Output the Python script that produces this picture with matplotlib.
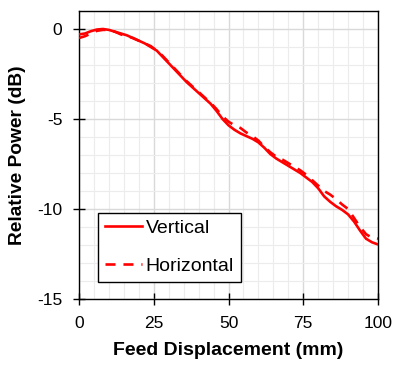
import matplotlib
matplotlib.use("Agg")
import matplotlib.pyplot as plt
from matplotlib.ticker import MultipleLocator

plt.rcParams['font.family'] = ['Liberation Sans', 'DejaVu Sans']
plt.rcParams['axes.unicode_minus'] = False

x = [0, 2, 4, 6, 8, 10, 12, 14, 16, 18, 20, 22, 24, 26, 28, 30, 32, 34, 36, 38, 40,
     42, 44, 46, 48, 50, 52, 54, 56, 58, 60, 62, 64, 66, 68, 70, 72, 74, 76, 78, 80,
     82, 84, 86, 88, 90, 92, 94, 96, 98, 100]
vertical = [-0.3, -0.25, -0.12, -0.03, 0.0, -0.05, -0.15, -0.25, -0.35, -0.5, -0.65,
            -0.8, -1.0, -1.2, -1.55, -1.9, -2.25, -2.6, -2.95, -3.25, -3.55,
            -3.85, -4.15, -4.55, -5.0, -5.35, -5.6, -5.8, -5.95, -6.1, -6.3,
            -6.6, -6.95, -7.2, -7.4, -7.6, -7.8, -8.0, -8.25, -8.5, -8.85,
            -9.3, -9.6, -9.85, -10.05, -10.3, -10.7, -11.2, -11.65, -11.85, -11.97]
horizontal = [-0.5, -0.4, -0.25, -0.1, -0.05, -0.05, -0.15, -0.3, -0.4, -0.5, -0.65,
              -0.8, -0.95, -1.2, -1.5, -1.85, -2.2, -2.55, -2.9, -3.2, -3.5,
              -3.8, -4.1, -4.45, -4.85, -5.15, -5.35, -5.5, -5.75, -5.95, -6.2,
              -6.55, -6.85, -7.1, -7.25, -7.45, -7.65, -7.85, -8.1, -8.4, -8.7,
              -9.0, -9.2, -9.45, -9.75, -10.0, -10.5, -11.0, -11.4, -11.6, -11.65]
x_ticks = [0, 25, 50, 75, 100]
y_ticks = [0, -5, -10, -15]

fig = plt.figure(figsize=(3.95, 3.65), dpi=100)
ax = fig.add_axes([79/395, 1-299/365, 299/395, 288/365])

ax.plot(x, vertical, color='#ff0000', lw=1.9, ls='-', label='Vertical', zorder=3)
ax.plot(x, horizontal, color='#ff0000', lw=1.9, ls=(0, (3.8, 3.0)), label='Horizontal', zorder=3)

ax.set_xlim(0, 100)
ax.set_ylim(-15, 1)
ax.set_xticks(x_ticks)
ax.set_yticks(y_ticks)
ax.xaxis.set_minor_locator(MultipleLocator(5))
ax.yaxis.set_minor_locator(MultipleLocator(1))
ax.grid(which='major', color='#d9d9d9', lw=1.0, zorder=0)
ax.grid(which='minor', color='#ececec', lw=0.8, zorder=0)
ax.set_axisbelow(True)
ax.tick_params(which='major', direction='inout', length=8, width=1, labelsize=12.5, color='black')
ax.tick_params(which='minor', length=0)
ax.tick_params(axis='x', pad=8)
ax.tick_params(axis='y', pad=8)
for s in ax.spines.values():
    s.set_color('black')
    s.set_linewidth(1)

ax.set_xlabel('Feed Displacement (mm)', fontsize=14, fontweight='bold', labelpad=8)
ax.set_ylabel('Relative Power (dB)', fontsize=13.8, fontweight='bold', labelpad=8)

leg = ax.legend(loc='lower left', bbox_to_anchor=(0.0635, 0.059), borderaxespad=0,
                fontsize=14, frameon=True, fancybox=False, edgecolor='black', framealpha=1,
                handlelength=1.9, borderpad=0.35, labelspacing=1.05, handletextpad=0.2)
leg.get_frame().set_linewidth(1)

fig.savefig('out.png', dpi=100)
